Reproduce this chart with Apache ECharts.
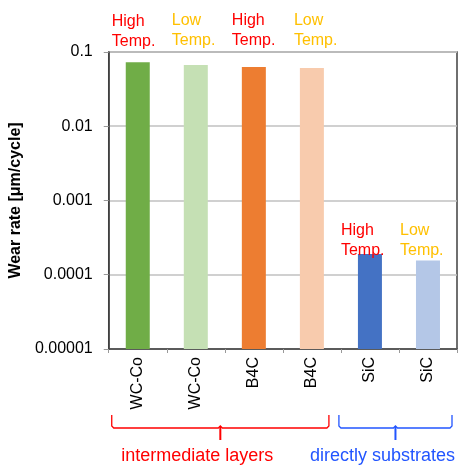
<!DOCTYPE html>
<html><head><meta charset="utf-8">
<script src="https://cdn.jsdelivr.net/npm/echarts@6/dist/echarts.min.js"></script>
<style>html,body{margin:0;padding:0;background:#fff}#c{width:458px;height:466px}</style>
</head><body><div id="c"></div>
<script>
const categories = ['WC-Co', 'WC-Co', 'B4C', 'B4C', 'SiC', 'SiC'];
const wearRates = [0.073, 0.067, 0.063, 0.061, 0.00019, 0.000156];
const tempLabels = ['High\nTemp.', 'Low\nTemp.', 'High\nTemp.', 'Low\nTemp.', 'High\nTemp.', 'Low\nTemp.'];
const tickLabels = ['0.00001', '0.0001', '0.001', '0.01', '0.1'];
const groupNames = ['intermediate layers', 'directly substrates'];
const groupRanges = [[0, 3], [4, 5]];

// styles
const barColors = ['#70AD47', '#C5E0B4', '#ED7D31', '#F8CBAD', '#4472C4', '#B4C7E7'];
const tempColors = ['#FF0000', '#FFC000', '#FF0000', '#FFC000', '#FF0000', '#FFC000'];
const labelDist = [11, 14, 16, 17, -7, 0];
const labelDx = [-26, -24, -22, -18, -29, -28];
const groupColors = ['#FF0000', '#2255FF'];
const FONT = 'Liberation Sans, Arial, sans-serif';

const chart = echarts.init(document.getElementById('c'), null, {renderer: 'canvas'});
const option = {
  animation: false,
  grid: {left: 105, right: 1, top: 52, bottom: 117, show: true, borderColor: '#404040', borderWidth: 1.5},
  xAxis: {
    type: 'category', data: categories,
    axisLine: {lineStyle: {color: '#404040', width: 1.5}},
    axisTick: {show: true, length: 4, lineStyle: {color: '#999'}},
    axisLabel: {rotate: 90, margin: 8, fontSize: 16, color: '#000', fontFamily: FONT, interval: 0}
  },
  yAxis: {
    type: 'log', logBase: 10, min: 0.00001, max: 0.1, startValue: 0.00001,
    name: 'Wear rate [\u03bcm/cycle]', nameLocation: 'middle', nameGap: 74,
    nameTextStyle: {fontSize: 16, fontWeight: 'bold', color: '#000', fontFamily: FONT},
    axisLine: {show: true, lineStyle: {color: '#404040', width: 1.5}},
    axisTick: {show: true, length: 5, lineStyle: {color: '#999'}},
    minorTick: {show: false},
    splitLine: {show: true, lineStyle: {color: '#C0C0C0', width: 1.5}},
    axisLabel: {
      fontSize: 16, color: '#000', fontFamily: FONT, margin: 16,
      formatter: v => tickLabels[Math.round(Math.log10(v)) + 5]
    }
  },
  series: [{
    type: 'bar', barWidth: 24,
    data: wearRates.map((v, i) => ({
      value: v,
      itemStyle: {color: barColors[i]},
      label: {
        show: true, position: 'top', distance: labelDist[i], offset: [labelDx[i], 0],
        align: 'left', formatter: tempLabels[i], color: tempColors[i],
        fontSize: 16, lineHeight: 20, fontFamily: FONT
      }
    }))
  }]
};
chart.setOption(option);

// group brackets
const insets = [[3, -12], [-2, -5]];
const textShift = [-23, -13];
const graphics = [];
groupRanges.forEach((r, g) => {
  const half = (chart.convertToPixel({xAxisIndex: 0}, 1) - chart.convertToPixel({xAxisIndex: 0}, 0)) / 2;
  const x0 = chart.convertToPixel({xAxisIndex: 0}, r[0]) - half + insets[g][0];
  const x1 = chart.convertToPixel({xAxisIndex: 0}, r[1]) + half + insets[g][1];
  const xc = (x0 + x1) / 2;
  const yTop = 415, yMid = 428, yTip = 440;
  const col = groupColors[g];
  graphics.push({
    type: 'polyline', silent: true,
    shape: {points: [[x0, yTop], [x0, yMid - 2], [x0 + 2, yMid], [xc - 2, yMid], [xc, yMid - 2], [xc + 2, yMid], [x1 - 2, yMid], [x1, yMid - 2], [x1, yTop]]},
    style: {stroke: col, lineWidth: 1.3, fill: null}
  });
  graphics.push({
    type: 'line', silent: true,
    shape: {x1: xc, y1: yMid - 1, x2: xc, y2: yTip},
    style: {stroke: col, lineWidth: 2}
  });
  graphics.push({
    type: 'text', silent: true,
    x: xc + textShift[g], y: 456,
    style: {text: groupNames[g], fill: col, font: '18px ' + FONT, textAlign: 'center', textVerticalAlign: 'middle'}
  });
});
chart.setOption({graphic: graphics});
</script></body></html>
